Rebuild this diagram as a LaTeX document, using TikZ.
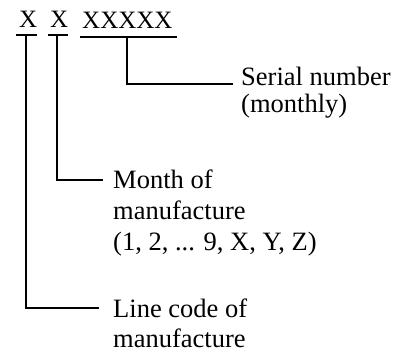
\documentclass[tikz,border=0pt]{standalone}
\usepackage{fontspec}
\setmainfont{Liberation Serif}
\begin{document}
\begin{tikzpicture}[x=1pt,y=1pt,
  lbl/.style={inner sep=0pt,anchor=base west,font=\fontsize{26.5}{30}\selectfont},
  code/.style={inner sep=0pt,anchor=base west,font=\fontsize{25}{30}\selectfont},
  ln/.style={line width=1.7pt}]
\useasboundingbox (0,0) rectangle (401,-352);
% top code
\node[code] (x1) at (19,-28) {X};
\node[code] (x2) at (50,-28) {X};
\node[code] (x3) at (82,-29) {XXXXX};
% underlines
\coordinate (u1a) at (16,-35); \coordinate (u1b) at (37,-35);
\coordinate (u2a) at (48,-35); \coordinate (u2b) at (68,-35);
\coordinate (u3a) at (80,-37); \coordinate (u3b) at (177,-37);
\draw[ln] (u1a) -- (u1b);
\draw[ln] (u2a) -- (u2b);
\draw[ln] (u3a) -- (u3b);
% labels
\node[lbl] (s1) at (241,-86) {Serial number};
\node[lbl] (s2) at (241,-113) {(monthly)};
\node[lbl] (m1) at (113,-189) {Month of};
\node[lbl] (m2) at (113,-220) {manufacture};
\node[lbl] (m3) at (113,-251) {(1, 2, ... 9, X, Y, Z)};
\node[lbl] (l1) at (113,-317) {Line code of};
\node[lbl] (l2) at (113,-347) {manufacture};
% connectors
\coordinate (c3) at (127,-37);
\coordinate (e3) at (233,-84);
\draw[ln] (c3) |- (e3);
\coordinate (c2) at (57,-35);
\coordinate (e2) at (103,-180);
\draw[ln] (c2) |- (e2);
\coordinate (c1) at (26,-35);
\coordinate (e1) at (99,-308);
\draw[ln] (c1) |- (e1);
\end{tikzpicture}
\end{document}
